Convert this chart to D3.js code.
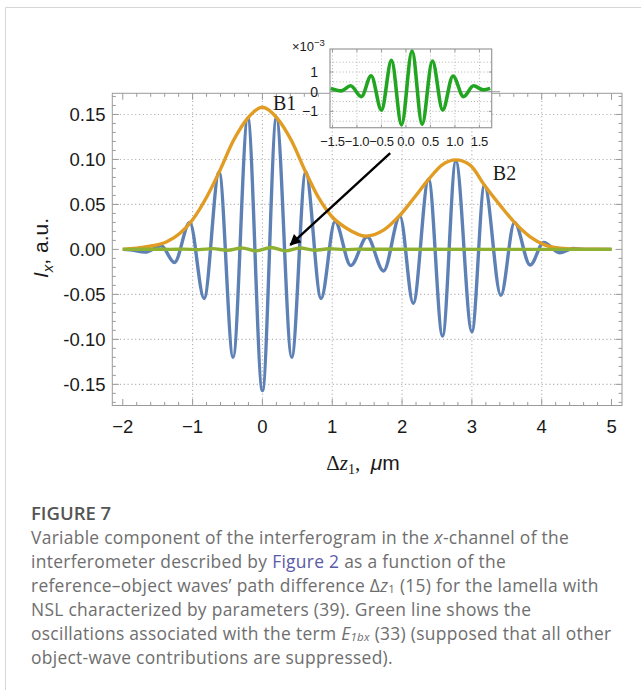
<!DOCTYPE html>
<html><head><meta charset="utf-8">
<script src="https://cdn.jsdelivr.net/npm/d3@7"></script>
<style>
html,body{margin:0;padding:0;background:#fff;}
svg{display:block;}
</style></head>
<body>
<svg id="chart" width="641" height="690"></svg>
<script>
// ---------- data ----------
// blue: full interferogram I_x (extrema and end points)
const blueX = [-2.0, -1.9, -1.68, -1.45, -1.26, -1.04, -0.835, -0.62, -0.42, -0.21, 0.0, 0.20, 0.42, 0.62, 0.84, 1.04, 1.266, 1.50, 1.735, 1.97, 2.16, 2.38, 2.58, 2.77, 3.0, 3.18, 3.415, 3.61, 3.835, 4.03, 4.255, 4.45, 4.6, 5.0];
const blueY = [0.0, -0.0005, -0.003, 0.004, -0.0145, 0.030, -0.0545, 0.086, -0.120, 0.146, -0.157, 0.146, -0.120, 0.086, -0.0545, 0.031, -0.018, 0.014, -0.024, 0.037, -0.060, 0.078, -0.0963, 0.0984, -0.0915, 0.0714, -0.051, 0.030, -0.0174, 0.0078, -0.0037, 0.001, 0.0, 0.0];
// orange: envelope
const envX = [-2.0, -1.66, -1.37, -1.18, -1.0, -0.80, -0.62, -0.415, -0.21, 0.0, 0.21, 0.415, 0.62, 0.80, 1.0, 1.21, 1.48, 1.735, 1.97, 2.165, 2.38, 2.57, 2.77, 2.975, 3.18, 3.405, 3.61, 3.835, 4.05, 4.31, 4.55, 5.0];
const envY = [0.0, 0.003, 0.0085, 0.018, 0.033, 0.058, 0.0859, 0.121, 0.146, 0.158, 0.146, 0.121, 0.0859, 0.058, 0.036, 0.0233, 0.0148, 0.0214, 0.038, 0.0566, 0.0778, 0.0937, 0.0995, 0.0937, 0.0714, 0.049, 0.030, 0.014, 0.0048, 0.001, 0.0003, 0.0];
// green: E1bx term, values in units of 1e-3
const greenX = [-1.535, -1.32, -1.13, -0.91, -0.71, -0.50, -0.295, -0.09, 0.125, 0.33, 0.54, 0.75, 0.96, 1.175, 1.38, 1.58, 1.72];
const greenY = [0.17, 0.04, 0.30, -0.25, 0.81, -0.94, 1.59, -1.69, 2.07, -1.66, 1.56, -0.93, 0.80, -0.25, 0.30, 0.09, 0.17];
const greenScale = 1e-3;

// ticks
const xTicks = [-2, -1, 0, 1, 2, 3, 4, 5];
const xTickLabels = ["\u22122", "\u22121", "0", "1", "2", "3", "4", "5"];
const yTicks = [0.15, 0.10, 0.05, 0.00, -0.05, -0.10, -0.15];
const yTickLabels = ["0.15", "0.10", "0.05", "0.00", "-0.05", "-0.10", "-0.15"];
const xGrid = [-1, 0, 1, 2, 3, 4];
const yGrid = [0.15, 0.10, 0.05, -0.05, -0.10, -0.15];
const insetXTicks = [-1.5, -1.0, -0.5, 0.0, 0.5, 1.0, 1.5];
const insetXTickLabels = ["\u22121.5", "\u22121.0", "\u22120.5", "0.0", "0.5", "1.0", "1.5"];
const insetYTicks = [1, 0, -1];
const insetYTickLabels = ["1", "0", "\u22121"];
const insetXGrid = [-1.5, -1.0, -0.5, 0.0, 0.5, 1.0, 1.5];
const insetYGrid = [1.5, 1.0, 0.5, -0.5, -1.0, -1.5];

// annotations (data coordinates)
const labels = [{t: "B1", x: 0.15, y: 0.155}, {t: "B2", x: 3.30, y: 0.077}];
const arrowFrom = [1.83, 0.107], arrowTo = [0.40, 0.005];

// caption
const captionTitle = "FIGURE 7";
const captionLines = [
  [["Variable component of the interferogram in the "], ["x", "i"], ["-channel of the"]],
  [["interferometer described by "], ["Figure 2", "link"], [" as a function of the"]],
  [["reference\u2013object waves\u2019 path difference \u0394"], ["z", "i"], ["1", "sub"], [" (15) for the lamella with"]],
  [["NSL characterized by parameters (39). Green line shows the"]],
  [["oscillations associated with the term "], ["E", "i"], ["1bx", "isub"], [" (33) (supposed that all other"]],
  [["object-wave contributions are suppressed)."]]
];

// ---------- drawing ----------
const svg = d3.select("#chart");
const W = 641, H = 690;

// figure border
svg.append("line").attr("x1", 5.5).attr("y1", 7.5).attr("x2", 5.5).attr("y2", H).attr("stroke", "#d6d6d6").attr("stroke-width", 1);
svg.append("line").attr("x1", 5.5).attr("y1", 7.5).attr("x2", W).attr("y2", 7.5).attr("stroke", "#d6d6d6").attr("stroke-width", 1);

const x = d3.scaleLinear().domain([-2.15, 5.15]).range([112.3, 622]);
const y = d3.scaleLinear().domain([-0.1735, 0.1735]).range([405.5, 93.3]);
const [L, R] = x.range();
const [B, T] = y.range();

const frameColor = "#9a9a9a";
const gridColor = "#b4b4b4";

// grid
const g = svg.append("g");
g.selectAll(".vg").data(xGrid).join("line")
  .attr("x1", d => x(d)).attr("x2", d => x(d)).attr("y1", T).attr("y2", B)
  .attr("stroke", gridColor).attr("stroke-width", 1.1).attr("stroke-dasharray", "1.2,2.6");
g.selectAll(".hg").data(yGrid).join("line")
  .attr("x1", L).attr("x2", R).attr("y1", d => y(d)).attr("y2", d => y(d))
  .attr("stroke", gridColor).attr("stroke-width", 1.1).attr("stroke-dasharray", "1.2,2.6");

// frame
g.append("rect").attr("x", L).attr("y", T).attr("width", R - L).attr("height", B - T)
  .attr("fill", "none").attr("stroke", frameColor).attr("stroke-width", 1);

// ticks (inward, all four sides)
const xMinor = d3.range(-2.0, 5.0001, 0.2).filter(v => Math.abs(v - Math.round(v)) > 1e-6);
const yMinor = d3.range(-0.17, 0.17001, 0.01).filter(v => Math.abs(v / 0.05 - Math.round(v / 0.05)) > 1e-6);
function xt(vals, len) {
  vals.forEach(v => {
    g.append("line").attr("x1", x(v)).attr("x2", x(v)).attr("y1", B).attr("y2", B - len).attr("stroke", frameColor);
    g.append("line").attr("x1", x(v)).attr("x2", x(v)).attr("y1", T).attr("y2", T + len).attr("stroke", frameColor);
  });
}
function yt(vals, len) {
  vals.forEach(v => {
    g.append("line").attr("y1", y(v)).attr("y2", y(v)).attr("x1", L).attr("x2", L + len).attr("stroke", frameColor);
    g.append("line").attr("y1", y(v)).attr("y2", y(v)).attr("x1", R).attr("x2", R - len).attr("stroke", frameColor);
  });
}
xt(xTicks, 6.5); xt(xMinor, 3.5);
yt(yTicks, 6.5); yt(yMinor, 3.5);

// tick labels
const tickFont = "'Liberation Sans', Arial, sans-serif";
g.selectAll(".xl").data(xTicks).join("text")
  .attr("x", d => x(d)).attr("y", 433).attr("text-anchor", "middle")
  .attr("font-family", tickFont).attr("font-size", 18.5).attr("fill", "#1a1a1a")
  .text((d, i) => xTickLabels[i]);
g.selectAll(".yl").data(yTicks).join("text")
  .attr("x", 105.5).attr("y", d => y(d) + 6.5).attr("text-anchor", "end")
  .attr("font-family", tickFont).attr("font-size", 18.5).attr("fill", "#1a1a1a")
  .text((d, i) => yTickLabels[i]);

// axis titles
const yTitle = svg.append("text").attr("transform", "translate(48,248) rotate(-90)")
  .attr("text-anchor", "middle").attr("font-family", tickFont).attr("font-size", 21).attr("fill", "#1a1a1a");
yTitle.append("tspan").attr("font-style", "italic").text("I");
yTitle.append("tspan").attr("font-style", "italic").attr("font-size", 15).attr("dy", 4.5).text("x");
yTitle.append("tspan").attr("dy", -4.5).text(", a.u.");

const xTitle = svg.append("text").attr("x", 363).attr("y", 470).attr("text-anchor", "middle")
  .attr("font-size", 21).attr("fill", "#1a1a1a");
const serif = "'Liberation Serif', 'Times New Roman', serif";
xTitle.append("tspan").attr("font-family", serif).text("\u0394");
xTitle.append("tspan").attr("font-family", serif).attr("font-style", "italic").text("z");
xTitle.append("tspan").attr("font-family", serif).attr("font-size", 14).attr("dy", 4).text("1");
xTitle.append("tspan").attr("font-family", serif).attr("dy", -4).text(",\u2002");
xTitle.append("tspan").attr("font-family", tickFont).attr("font-style", "italic").text("\u03bc");
xTitle.append("tspan").attr("font-family", tickFont).text("m");

// curves
const clipId = "plotclip";
svg.append("clipPath").attr("id", clipId).append("rect").attr("x", L).attr("y", T).attr("width", R - L).attr("height", B - T);
const plot = svg.append("g").attr("clip-path", `url(#${clipId})`);
const line = d3.line().x(d => x(d[0])).y(d => y(d[1])).curve(d3.curveMonotoneX);
const blue = blueX.map((v, i) => [v, blueY[i]]);
const env = envX.map((v, i) => [v, envY[i]]);
const greenMain = [[-2.0, 0]].concat(greenX.map((v, i) => [v, greenY[i] * greenScale])).concat([[5.0, 0]]);
plot.append("path").attr("d", line(blue)).attr("fill", "none").attr("stroke", "#5e81b5").attr("stroke-width", 3.4).attr("stroke-linejoin", "round");
plot.append("path").attr("d", line(env)).attr("fill", "none").attr("stroke", "#e19c24").attr("stroke-width", 3.4);
plot.append("path").attr("d", line(greenMain)).attr("fill", "none").attr("stroke", "#8fb131").attr("stroke-width", 3.4);

// labels B1, B2
svg.selectAll(".bl").data(labels).join("text")
  .attr("x", d => x(d.x)).attr("y", d => y(d.y))
  .attr("font-family", serif).attr("font-size", 20).attr("fill", "#1a1a1a")
  .text(d => d.t);

// arrow
svg.append("defs").append("marker").attr("id", "ah").attr("viewBox", "0 0 10 10").attr("refX", 9).attr("refY", 5)
  .attr("markerWidth", 6.5).attr("markerHeight", 4.6).attr("markerUnits", "strokeWidth").attr("orient", "auto")
  .append("path").attr("d", "M0,0 L10,5 L0,10 Z").attr("fill", "#000");
svg.append("line").attr("x1", x(arrowFrom[0])).attr("y1", y(arrowFrom[1]))
  .attr("x2", x(arrowTo[0])).attr("y2", y(arrowTo[1]))
  .attr("stroke", "#000").attr("stroke-width", 2.4).attr("marker-end", "url(#ah)");

// ---------- inset ----------
const ix = d3.scaleLinear().domain([-1.55, 1.75]).range([330, 491.7]);
const iy = d3.scaleLinear().domain([-1.83, 2.17]).range([127.7, 49]);
const [iL, iR] = ix.range();
const [iB, iT] = iy.range();
const ins = svg.append("g");
ins.append("rect").attr("x", iL).attr("y", iT).attr("width", iR - iL).attr("height", iB - iT).attr("fill", "#fff");
ins.selectAll(".ivg").data(insetXGrid).join("line")
  .attr("x1", d => ix(d)).attr("x2", d => ix(d)).attr("y1", iT).attr("y2", iB)
  .attr("stroke", gridColor).attr("stroke-width", 1).attr("stroke-dasharray", "1,2.2");
ins.selectAll(".ihg").data(insetYGrid).join("line")
  .attr("x1", iL).attr("x2", iR).attr("y1", d => iy(d)).attr("y2", d => iy(d))
  .attr("stroke", gridColor).attr("stroke-width", 1).attr("stroke-dasharray", "1,2.2");
// zero axis
ins.append("line").attr("x1", iL).attr("x2", 500).attr("y1", iy(0)).attr("y2", iy(0)).attr("stroke", frameColor).attr("stroke-width", 1);
ins.append("rect").attr("x", iL).attr("y", iT).attr("width", iR - iL).attr("height", iB - iT)
  .attr("fill", "none").attr("stroke", frameColor).attr("stroke-width", 1.2);
insetXTicks.forEach(v => {
  ins.append("line").attr("x1", ix(v)).attr("x2", ix(v)).attr("y1", iB).attr("y2", iB - 3).attr("stroke", frameColor);
  ins.append("line").attr("x1", ix(v)).attr("x2", ix(v)).attr("y1", iT).attr("y2", iT + 3).attr("stroke", frameColor);
});
insetYTicks.forEach(v => {
  ins.append("line").attr("y1", iy(v)).attr("y2", iy(v)).attr("x1", iL).attr("x2", iL + 3).attr("stroke", frameColor);
  ins.append("line").attr("y1", iy(v)).attr("y2", iy(v)).attr("x1", iR).attr("x2", iR - 3).attr("stroke", frameColor);
});
const iclip = "insclip";
svg.append("clipPath").attr("id", iclip).append("rect").attr("x", iL).attr("y", iT).attr("width", iR - iL).attr("height", iB - iT);
const iline = d3.line().x(d => ix(d[0])).y(d => iy(d[1])).curve(d3.curveMonotoneX);
ins.append("path").attr("clip-path", `url(#${iclip})`)
  .attr("d", iline(greenX.map((v, i) => [v, greenY[i]])))
  .attr("fill", "none").attr("stroke", "#22a622").attr("stroke-width", 3.6);
ins.selectAll(".ixl").data(insetXTicks).join("text")
  .attr("x", d => ix(d)).attr("y", 145.5).attr("text-anchor", "middle")
  .attr("font-family", tickFont).attr("font-size", 13).attr("letter-spacing", -0.3).attr("fill", "#1a1a1a")
  .text((d, i) => insetXTickLabels[i]);
ins.selectAll(".iyl").data(insetYTicks).join("text")
  .attr("x", 318).attr("y", d => iy(d) + 5).attr("text-anchor", "end")
  .attr("font-family", tickFont).attr("font-size", 14).attr("fill", "#1a1a1a")
  .text((d, i) => insetYTickLabels[i]);
const mult = ins.append("text").attr("x", 292).attr("y", 51).attr("font-family", tickFont).attr("font-size", 13).attr("fill", "#1a1a1a");
mult.append("tspan").text("\u00d710");
mult.append("tspan").attr("font-size", 9.5).attr("dy", -5.5).text("\u22123");

// ---------- caption ----------
const capFont = "'Open Sans', 'Noto Sans', sans-serif";
svg.append("text").attr("x", 31).attr("y", 519.5).attr("font-family", capFont).attr("font-weight", 600)
  .attr("font-size", 18.5).attr("fill", "#555").text(captionTitle);
captionLines.forEach((segs, li) => {
  const t = svg.append("text").attr("x", 31).attr("y", 543.5 + li * 24)
    .attr("font-family", capFont).attr("font-size", 17.4).attr("letter-spacing", 0.3).attr("fill", "#6e6e6e");
  segs.forEach((s, si) => {
    const sp = t.append("tspan").text(s[0]);
    if (s[1] === "i") sp.attr("font-style", "italic");
    if (s[1] === "link") sp.attr("fill", "#5b5aa6");
    if (s[1] === "sub") { sp.attr("font-size", 11.5).attr("dy", 1.8); }
    if (s[1] === "isub") { sp.attr("font-size", 11.5).attr("font-style", "italic").attr("dy", 1.8); }
    if (s[1] !== "sub" && s[1] !== "isub" && si > 0) {
      const prev = segs[si - 1];
      if (prev[1] === "sub" || prev[1] === "isub") sp.attr("dy", -1.8);
    }
  });
});
</script>
</body></html>
